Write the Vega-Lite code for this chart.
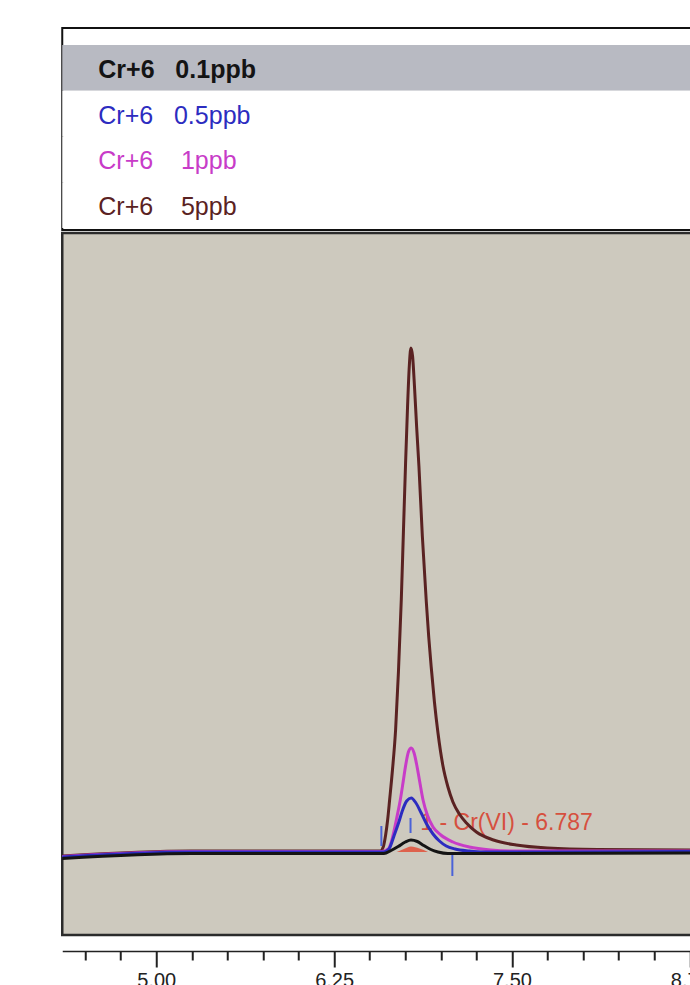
{
  "$schema": "https://vega.github.io/schema/vega-lite/v6.json",
  "padding": {"left": 54.25, "top": 27, "right": 0, "bottom": 0},
  "spacing": 0,
  "datasets": {
    "legend": [
      {"series": "0.1ppb", "rank": 1, "selected": true, "text": "Cr+6\u00a0\u00a0\u00a00.1ppb"},
      {"series": "0.5ppb", "rank": 2, "selected": false, "text": "Cr+6\u00a0\u00a0\u00a00.5ppb"},
      {"series": "1ppb", "rank": 3, "selected": false, "text": "\u00a0\u00a0Cr+6\u00a0\u00a0\u00a0\u00a01ppb"},
      {"series": "5ppb", "rank": 4, "selected": false, "text": "\u00a0\u00a0Cr+6\u00a0\u00a0\u00a0\u00a05ppb"}
    ],
    "traces": [
      {"series": "5ppb", "t": 4.339, "s": -4}, {"series": "5ppb", "t": 5.246, "s": 1}, {"series": "5ppb", "t": 6.5, "s": 1},
      {"series": "5ppb", "t": 6.575, "s": 1}, {"series": "5ppb", "t": 6.595, "s": 5}, {"series": "5ppb", "t": 6.612, "s": 17},
      {"series": "5ppb", "t": 6.626, "s": 32}, {"series": "5ppb", "t": 6.64, "s": 52}, {"series": "5ppb", "t": 6.66, "s": 82},
      {"series": "5ppb", "t": 6.682, "s": 122}, {"series": "5ppb", "t": 6.702, "s": 180}, {"series": "5ppb", "t": 6.722, "s": 252},
      {"series": "5ppb", "t": 6.737, "s": 320}, {"series": "5ppb", "t": 6.752, "s": 388}, {"series": "5ppb", "t": 6.766, "s": 445},
      {"series": "5ppb", "t": 6.778, "s": 485}, {"series": "5ppb", "t": 6.79, "s": 504}, {"series": "5ppb", "t": 6.802, "s": 495},
      {"series": "5ppb", "t": 6.815, "s": 465}, {"series": "5ppb", "t": 6.83, "s": 425}, {"series": "5ppb", "t": 6.846, "s": 386},
      {"series": "5ppb", "t": 6.87, "s": 316}, {"series": "5ppb", "t": 6.898, "s": 250}, {"series": "5ppb", "t": 6.915, "s": 215},
      {"series": "5ppb", "t": 6.933, "s": 184}, {"series": "5ppb", "t": 6.955, "s": 150}, {"series": "5ppb", "t": 6.98, "s": 119},
      {"series": "5ppb", "t": 7.015, "s": 86}, {"series": "5ppb", "t": 7.05, "s": 65}, {"series": "5ppb", "t": 7.085, "s": 50},
      {"series": "5ppb", "t": 7.13, "s": 38}, {"series": "5ppb", "t": 7.18, "s": 29}, {"series": "5ppb", "t": 7.25, "s": 20},
      {"series": "5ppb", "t": 7.37, "s": 12}, {"series": "5ppb", "t": 7.53, "s": 7}, {"series": "5ppb", "t": 7.75, "s": 4},
      {"series": "5ppb", "t": 8.1, "s": 2.5}, {"series": "5ppb", "t": 8.7672, "s": 2},

      {"series": "1ppb", "t": 4.339, "s": -4.5}, {"series": "1ppb", "t": 5.246, "s": 0.5}, {"series": "1ppb", "t": 6.582, "s": 0.5},
      {"series": "1ppb", "t": 6.63, "s": 3}, {"series": "1ppb", "t": 6.652, "s": 10}, {"series": "1ppb", "t": 6.666, "s": 18},
      {"series": "1ppb", "t": 6.69, "s": 34}, {"series": "1ppb", "t": 6.715, "s": 52}, {"series": "1ppb", "t": 6.735, "s": 70},
      {"series": "1ppb", "t": 6.752, "s": 86}, {"series": "1ppb", "t": 6.772, "s": 100}, {"series": "1ppb", "t": 6.792, "s": 104},
      {"series": "1ppb", "t": 6.812, "s": 99}, {"series": "1ppb", "t": 6.832, "s": 86}, {"series": "1ppb", "t": 6.852, "s": 70},
      {"series": "1ppb", "t": 6.875, "s": 52}, {"series": "1ppb", "t": 6.905, "s": 37}, {"series": "1ppb", "t": 6.945, "s": 25},
      {"series": "1ppb", "t": 7.0, "s": 17}, {"series": "1ppb", "t": 7.085, "s": 10}, {"series": "1ppb", "t": 7.2, "s": 5},
      {"series": "1ppb", "t": 7.35, "s": 2}, {"series": "1ppb", "t": 7.5, "s": 1}, {"series": "1ppb", "t": 8.7672, "s": 1},

      {"series": "0.5ppb", "t": 4.339, "s": -5}, {"series": "0.5ppb", "t": 5.246, "s": 0}, {"series": "0.5ppb", "t": 6.596, "s": 0},
      {"series": "0.5ppb", "t": 6.635, "s": 3}, {"series": "0.5ppb", "t": 6.673, "s": 17}, {"series": "0.5ppb", "t": 6.705, "s": 30},
      {"series": "0.5ppb", "t": 6.729, "s": 41}, {"series": "0.5ppb", "t": 6.76, "s": 51}, {"series": "0.5ppb", "t": 6.792, "s": 54},
      {"series": "0.5ppb", "t": 6.825, "s": 49}, {"series": "0.5ppb", "t": 6.862, "s": 39}, {"series": "0.5ppb", "t": 6.9, "s": 28},
      {"series": "0.5ppb", "t": 6.945, "s": 18}, {"series": "0.5ppb", "t": 6.99, "s": 11}, {"series": "0.5ppb", "t": 7.038, "s": 6},
      {"series": "0.5ppb", "t": 7.1, "s": 3}, {"series": "0.5ppb", "t": 7.2, "s": 1}, {"series": "0.5ppb", "t": 7.3, "s": 0},
      {"series": "0.5ppb", "t": 8.7672, "s": 0.5},

      {"series": "0.1ppb", "t": 4.339, "s": -6.5}, {"series": "0.1ppb", "t": 5.246, "s": -1.5}, {"series": "0.1ppb", "t": 6.6, "s": -1.5},
      {"series": "0.1ppb", "t": 6.65, "s": 1.5}, {"series": "0.1ppb", "t": 6.7, "s": 5.5}, {"series": "0.1ppb", "t": 6.75, "s": 10},
      {"series": "0.1ppb", "t": 6.79, "s": 12}, {"series": "0.1ppb", "t": 6.835, "s": 10.5}, {"series": "0.1ppb", "t": 6.88, "s": 6.5},
      {"series": "0.1ppb", "t": 6.93, "s": 2.5}, {"series": "0.1ppb", "t": 6.98, "s": 0}, {"series": "0.1ppb", "t": 7.05, "s": -1.5},
      {"series": "0.1ppb", "t": 8.7672, "s": -1}
    ],
    "fit": [
      {"t": 6.69, "s": 0}, {"t": 6.74, "s": 3}, {"t": 6.79, "s": 5.5}, {"t": 6.85, "s": 3.5}, {"t": 6.91, "s": 0}
    ],
    "markers": [
      {"t": 6.582, "s": 6, "s2": 26},
      {"t": 6.787, "s": 19, "s2": 34},
      {"t": 7.081, "s": -24, "s2": -3}
    ],
    "peaks": [
      {"t": 6.856, "s": 22, "label": "1 - Cr(VI) - 6.787"}
    ]
  },
  "vconcat": [
    {
      "width": 630,
      "height": 202,
      "view": {"fill": "white", "stroke": "#111111", "strokeWidth": 2},
      "data": {"name": "legend"},
      "layer": [
        {
          "mark": {"type": "rect"},
          "encoding": {
            "y": {"field": "rank", "type": "ordinal", "scale": {"range": [17, 200], "paddingInner": 0, "paddingOuter": 0}, "axis": null},
            "fill": {"condition": {"test": "datum.selected", "value": "#b8bac2"}, "value": "white"}
          }
        },
        {
          "transform": [{"filter": "datum.selected"}],
          "mark": {"type": "text", "align": "left", "baseline": "alphabetic", "dy": 10, "fontSize": 25, "fontWeight": "bold", "font": "Liberation Sans"},
          "encoding": {
            "x": {"value": 36},
            "y": {"field": "rank", "type": "ordinal", "axis": null},
            "text": {"field": "text"},
            "color": {"field": "series", "type": "nominal", "scale": {"domain": ["0.1ppb", "0.5ppb", "1ppb", "5ppb"], "range": ["#141414", "#2c2cc0", "#c83cc8", "#5a2222"]}, "legend": null}
          }
        },
        {
          "transform": [{"filter": "!datum.selected"}],
          "mark": {"type": "text", "align": "left", "baseline": "alphabetic", "dy": 10, "fontSize": 25, "font": "Liberation Sans"},
          "encoding": {
            "x": {"value": 36},
            "y": {"field": "rank", "type": "ordinal", "axis": null},
            "text": {"field": "text"},
            "color": {"field": "series", "type": "nominal", "scale": {"domain": ["0.1ppb", "0.5ppb", "1ppb", "5ppb"], "range": ["#141414", "#2c2cc0", "#c83cc8", "#5a2222"]}, "legend": null}
          }
        }
      ]
    },
    {
      "width": 630,
      "height": 702,
      "view": {"fill": "#cdc9be", "stroke": "#2b2b2b", "strokeWidth": 2.5},
      "layer": [
        {
          "data": {"name": "peaks"},
          "mark": {"type": "text", "align": "left", "baseline": "alphabetic", "fontSize": 23, "font": "Liberation Sans", "color": "#d6503e"},
          "encoding": {
            "x": {"field": "t", "type": "quantitative", "scale": {"domain": [4.339, 8.7672], "nice": false, "zero": false}, "axis": {"title": "", "grid": false, "values": [4.5, 4.75, 5, 5.25, 5.5, 5.75, 6, 6.25, 6.5, 6.75, 7, 7.25, 7.5, 7.75, 8, 8.25, 8.5, 8.75], "labelExpr": "abs(datum.value/1.25 - round(datum.value/1.25)) < 0.001 ? format(datum.value, '.2f') : ''", "offset": 16, "domainColor": "#222222", "domainWidth": 1.5, "tickColor": "#222222", "tickWidth": 2, "tickSize": {"condition": {"test": "abs(datum.value/1.25 - round(datum.value/1.25)) < 0.001", "value": 16}, "value": 9}, "labelFontSize": 20, "labelFont": "Liberation Sans", "labelColor": "#222222", "labelPadding": 3, "labelOverlap": false}},
            "y": {"field": "s", "type": "quantitative", "scale": {"domain": [-83, 619], "nice": false, "zero": false}, "axis": null},
            "text": {"field": "label"}
          }
        },
        {
          "data": {"name": "traces"},
          "mark": {"type": "line", "strokeWidth": 3, "interpolate": "monotone"},
          "encoding": {
            "x": {"field": "t", "type": "quantitative", "scale": {"domain": [4.339, 8.7672], "nice": false, "zero": false}, "axis": {"title": "", "grid": false, "values": [4.5, 4.75, 5, 5.25, 5.5, 5.75, 6, 6.25, 6.5, 6.75, 7, 7.25, 7.5, 7.75, 8, 8.25, 8.5, 8.75], "labelExpr": "abs(datum.value/1.25 - round(datum.value/1.25)) < 0.001 ? format(datum.value, '.2f') : ''", "offset": 16, "domainColor": "#222222", "domainWidth": 1.5, "tickColor": "#222222", "tickWidth": 2, "tickSize": {"condition": {"test": "abs(datum.value/1.25 - round(datum.value/1.25)) < 0.001", "value": 16}, "value": 9}, "labelFontSize": 20, "labelFont": "Liberation Sans", "labelColor": "#222222", "labelPadding": 3, "labelOverlap": false}},
            "y": {"field": "s", "type": "quantitative", "scale": {"domain": [-83, 619], "nice": false, "zero": false}, "axis": null},
            "color": {"field": "series", "type": "nominal", "scale": {"domain": ["0.1ppb", "0.5ppb", "1ppb", "5ppb"], "range": ["#141414", "#2c2cc0", "#c83cc8", "#5a2222"]}, "legend": null}
          }
        },
        {
          "data": {"name": "fit"},
          "mark": {"type": "area", "color": "#e0503a", "opacity": 0.85, "interpolate": "monotone"},
          "encoding": {
            "x": {"field": "t", "type": "quantitative", "scale": {"domain": [4.339, 8.7672], "nice": false, "zero": false}, "axis": {"title": "", "grid": false, "values": [4.5, 4.75, 5, 5.25, 5.5, 5.75, 6, 6.25, 6.5, 6.75, 7, 7.25, 7.5, 7.75, 8, 8.25, 8.5, 8.75], "labelExpr": "abs(datum.value/1.25 - round(datum.value/1.25)) < 0.001 ? format(datum.value, '.2f') : ''", "offset": 16, "domainColor": "#222222", "domainWidth": 1.5, "tickColor": "#222222", "tickWidth": 2, "tickSize": {"condition": {"test": "abs(datum.value/1.25 - round(datum.value/1.25)) < 0.001", "value": 16}, "value": 9}, "labelFontSize": 20, "labelFont": "Liberation Sans", "labelColor": "#222222", "labelPadding": 3, "labelOverlap": false}},
            "y": {"field": "s", "type": "quantitative", "scale": {"domain": [-83, 619], "nice": false, "zero": false}, "axis": null}
          }
        },
        {
          "data": {"name": "markers"},
          "mark": {"type": "rule", "color": "#4a62d8", "strokeWidth": 2},
          "encoding": {
            "x": {"field": "t", "type": "quantitative", "scale": {"domain": [4.339, 8.7672], "nice": false, "zero": false}, "axis": {"title": "", "grid": false, "values": [4.5, 4.75, 5, 5.25, 5.5, 5.75, 6, 6.25, 6.5, 6.75, 7, 7.25, 7.5, 7.75, 8, 8.25, 8.5, 8.75], "labelExpr": "abs(datum.value/1.25 - round(datum.value/1.25)) < 0.001 ? format(datum.value, '.2f') : ''", "offset": 16, "domainColor": "#222222", "domainWidth": 1.5, "tickColor": "#222222", "tickWidth": 2, "tickSize": {"condition": {"test": "abs(datum.value/1.25 - round(datum.value/1.25)) < 0.001", "value": 16}, "value": 9}, "labelFontSize": 20, "labelFont": "Liberation Sans", "labelColor": "#222222", "labelPadding": 3, "labelOverlap": false}},
            "y": {"field": "s", "type": "quantitative", "scale": {"domain": [-83, 619], "nice": false, "zero": false}, "axis": null},
            "y2": {"field": "s2"}
          }
        }
      ]
    }
  ]
}
